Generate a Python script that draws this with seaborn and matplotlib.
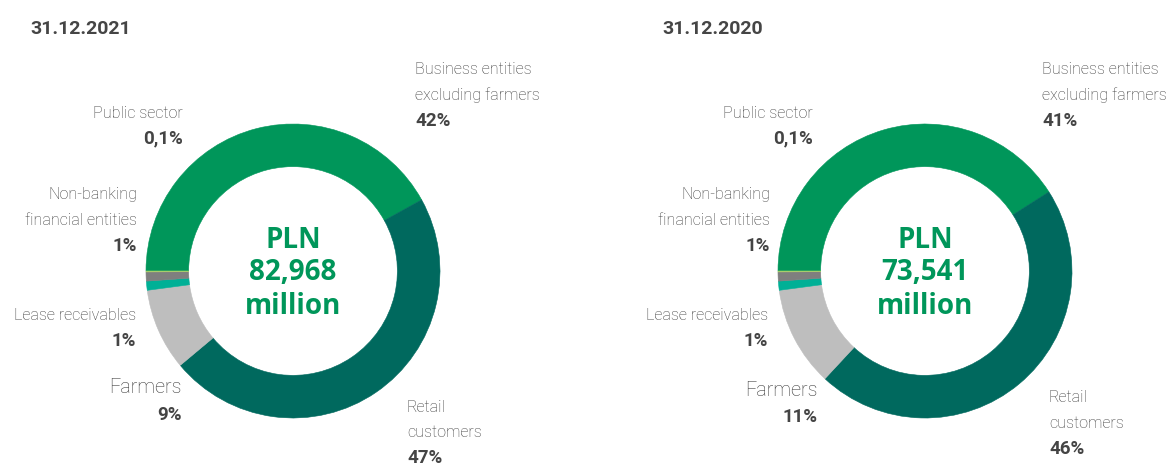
import matplotlib
matplotlib.use("Agg")
import matplotlib.pyplot as plt
import seaborn as sns

sns.set_theme(style="white")
plt.rcParams["font.family"] = ["Roboto", "DejaVu Sans"]

# Loan portfolio structure by customer segment
segments = ["Business entities excluding farmers", "Retail customers", "Farmers",
            "Lease receivables", "Non-banking financial entities", "Public sector"]
share_2021 = [42, 47, 9, 1, 1, 0.1]
share_2020 = [41, 46, 11, 1, 1, 0.1]
pct_labels_2021 = ["42%", "47%", "9%", "1%", "1%", "0,1%"]
pct_labels_2020 = ["41%", "46%", "11%", "1%", "1%", "0,1%"]
titles = ["31.12.2021", "31.12.2020"]
totals = ["82,968", "73,541"]

colors = ["#00965A", "#00695E", "#BEBEBE", "#00B096", "#7F7F7F", "#A8CF6A"]
GREEN = "#00965A"
LABEL = "#3A3A3A"
VALUE = "#444444"

W, H = 1175, 464
fig = plt.figure(figsize=(W / 100, H / 100), dpi=100)
fig.patch.set_facecolor("white")


def fx(x):
    return x / W


def fy(y):
    return 1 - y / H


def donut(cx, cy, values, total):
    r = 147
    half = 160
    ax = fig.add_axes([fx(cx - half), fy(cy + half), 2 * half / W, 2 * half / H])
    wedges, _ = ax.pie(values, colors=colors, startangle=180, counterclock=False,
                       radius=1, wedgeprops=dict(width=0.29, linewidth=0.4))
    for w in wedges:
        w.set_edgecolor(w.get_facecolor())
    lim = half / r
    ax.set_xlim(-lim, lim)
    ax.set_ylim(-lim, lim)
    ax.set_aspect("equal")
    ax.axis("off")
    for text, y in zip(["PLN", total, "million"], [240, 273, 307]):
        fig.text(fx(cx), fy(y), text, ha="center", va="center", color=GREEN,
                 fontsize=20, fontweight="bold", family=["Open Sans", "DejaVu Sans"])


def label(x, y, lines, value, ha, size=11.6):
    for i, line in enumerate(lines):
        fig.text(fx(x), fy(y + 25.5 * i), line, ha=ha, va="center",
                 color=LABEL, fontsize=size, fontweight="light")
    fig.text(fx(x), fy(y + 25.5 * len(lines) + (2 if size > 13 else 0)), value,
             ha=ha, va="center", color=VALUE, fontsize=13.5, fontweight="bold")


layout = [
    dict(cx=293, title_x=30, values=share_2021, pcts=pct_labels_2021, total=totals[0],
         title=titles[0],
         biz=(415, 70), retail=(407, 407), public=(183, 113), nonbank=(137, 195),
         lease=(136, 316), farm=(182, 388)),
    dict(cx=925, title_x=662, values=share_2020, pcts=pct_labels_2020, total=totals[1],
         title=titles[1],
         biz=(1042, 70), retail=(1049, 398), public=(813, 113), nonbank=(770, 195),
         lease=(768, 316), farm=(818, 390)),
]

for p in layout:
    donut(p["cx"], 272, p["values"], p["total"])
    fig.text(fx(p["title_x"]), fy(29), p["title"], ha="left", va="center",
             color="#454545", fontsize=14, fontweight="bold")
    pc = p["pcts"]
    label(*p["biz"], ["Business entities", "excluding farmers"], pc[0], "left")
    label(*p["retail"], ["Retail", "customers"], pc[1], "left")
    label(*p["farm"], ["Farmers"], pc[2], "right", size=14.2)
    label(*p["lease"], ["Lease receivables"], pc[3], "right")
    label(*p["nonbank"], ["Non-banking", "financial entities"], pc[4], "right")
    label(*p["public"], ["Public sector"], pc[5], "right")

fig.savefig("out.png", dpi=100, facecolor="white")
